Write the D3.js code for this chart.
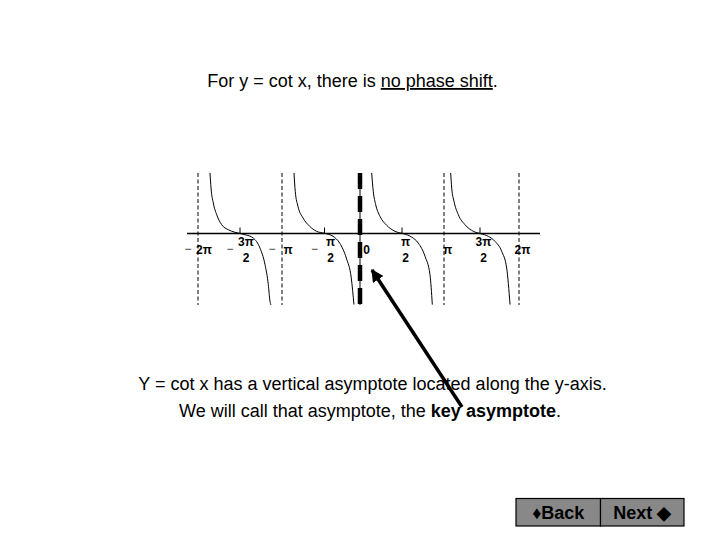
<!DOCTYPE html>
<html>
<head>
<meta charset="utf-8">
<script src="https://cdn.jsdelivr.net/npm/d3@7"></script>
<style>
  html, body { margin: 0; padding: 0; background: #ffffff; }
  svg { display: block; }
</style>
</head>
<body>
<svg id="chart" width="720" height="540"></svg>
<script>
// ---------------- data (x in multiples of pi) ----------------
const tickValues = [-2, -1.5, -1, -0.5, 0, 0.5, 1, 1.5, 2];
const tickSign   = ["\u2212", "\u2212", "\u2212", "\u2212", "", "", "", "", ""];
const tickNum    = ["2\u03C0", "3\u03C0", "\u03C0", "\u03C0", "0", "\u03C0", "\u03C0", "3\u03C0", "2\u03C0"];
const tickDen    = ["", "2", "", "2", "", "2", "", "2", ""];
const zeroCrossings = [-1.5, -0.5, 0.5, 1.5];
const asymptotes = [-2, -1, 1, 2];
const keyAsymptote = 0;

const branch1X = [-1.857, -1.845, -1.818, -1.777, -1.718, -1.639, -1.560, -1.5, -1.440, -1.341, -1.262, -1.202, -1.163, -1.143, -1.131];
const branch1Y = [3.03, 2.28, 1.53, 0.94, 0.44, 0.19, 0.06, 0.0, -0.06, -0.23, -0.73, -1.56, -2.56, -3.39, -3.58];
const branch2X = [-0.859, -0.844, -0.812, -0.753, -0.674, -0.594, -0.497, -0.380, -0.286, -0.193, -0.123, -0.085];
const branch2Y = [3.03, 2.11, 1.36, 0.78, 0.36, 0.11, 0.01, -0.14, -0.48, -1.23, -2.23, -3.56];
const branch3X = [0.139, 0.158, 0.187, 0.238, 0.318, 0.417, 0.516, 0.615, 0.694, 0.774, 0.833, 0.861];
const branch3Y = [3.03, 2.11, 1.44, 0.86, 0.41, 0.11, -0.01, -0.18, -0.48, -1.14, -2.06, -3.56];
const branch4X = [1.093, 1.107, 1.139, 1.199, 1.292, 1.407, 1.509, 1.606, 1.692, 1.778, 1.842, 1.885];
const branch4Y = [3.03, 2.28, 1.61, 0.94, 0.44, 0.11, -0.01, -0.14, -0.39, -0.89, -1.73, -3.56];
const branchesX = [branch1X, branch2X, branch3X, branch4X];
const branchesY = [branch1Y, branch2Y, branch3Y, branch4Y];

const yTop = 3.03, yBottom = -3.58;

const titleParts = ["For y = cot x, there is ", "no phase shift", "."];
const line1 = "Y = cot x has a vertical asymptote located along the y-axis.";
const line2Parts = ["We will call that asymptote, the ", "key asymptote", "."];
const buttonLabels = ["\u2666Back", "Next \u25C6"];

// ---------------- drawing ----------------
const svg = d3.select("#chart");
const FONT = "'Liberation Sans', Arial, sans-serif";

const x = d3.scaleLinear()
  .domain(tickValues)
  .range([198, 240, 282, 324.5, 360, 402, 444, 480, 519]);
const y = d3.scaleLinear().domain([yTop, yBottom]).range([173, 305]);

// title
const title = svg.append("text")
  .attr("x", 352.5).attr("y", 87)
  .attr("text-anchor", "middle")
  .attr("font-family", FONT).attr("font-size", 18).attr("fill", "#000");
title.append("tspan").text(titleParts[0]);
title.append("tspan").attr("text-decoration", "underline").text(titleParts[1]);
title.append("tspan").text(titleParts[2]);

// thin dashed asymptotes
svg.selectAll("line.asym").data(asymptotes).join("line")
  .attr("class", "asym")
  .attr("x1", d => x(d)).attr("x2", d => x(d))
  .attr("y1", y(yTop)).attr("y2", y(yBottom))
  .attr("stroke", "#000").attr("stroke-width", 1)
  .attr("stroke-dasharray", "4,2.5");

// x axis line
svg.append("line")
  .attr("x1", 187).attr("x2", 540)
  .attr("y1", y(0)).attr("y2", y(0))
  .attr("stroke", "#000").attr("stroke-width", 1.3);

// small ticks at zero crossings
svg.selectAll("line.tick").data(zeroCrossings).join("line")
  .attr("class", "tick")
  .attr("x1", d => x(d)).attr("x2", d => x(d))
  .attr("y1", y(0) - 6).attr("y2", y(0))
  .attr("stroke", "#000").attr("stroke-width", 1);

// cot branches
const lineGen = d3.line().x(d => x(d[0])).y(d => y(d[1])).curve(d3.curveMonotoneX);
branchesX.forEach((bx, i) => {
  const pts = bx.map((v, j) => [v, branchesY[i][j]]);
  svg.append("path").attr("d", lineGen(pts))
    .attr("fill", "none").attr("stroke", "#000").attr("stroke-width", 1);
});

// key asymptote (thick dashed over thin solid)
svg.append("line")
  .attr("x1", x(keyAsymptote)).attr("x2", x(keyAsymptote))
  .attr("y1", y(yTop)).attr("y2", y(yBottom))
  .attr("stroke", "#000").attr("stroke-width", 1);
svg.append("line")
  .attr("x1", x(keyAsymptote)).attr("x2", x(keyAsymptote))
  .attr("y1", y(yTop)).attr("y2", y(yBottom))
  .attr("stroke", "#000").attr("stroke-width", 4.5)
  .attr("stroke-dasharray", "16,7");

// tick labels
const lab = svg.append("g")
  .attr("font-family", FONT).attr("font-weight", "bold")
  .attr("font-size", 12).attr("fill", "#000");
tickValues.forEach((v, i) => {
  const neg = tickSign[i] !== "";
  const cx = x(v) + (neg ? 6 : (v === 0 ? 6.5 : 3.5));
  const hasDen = tickDen[i] !== "";
  if (neg) {
    lab.append("text").attr("x", x(v) - 10).attr("y", 253)
      .attr("text-anchor", "middle").attr("font-weight", "normal").attr("fill", "#333")
      .text(tickSign[i]);
  }
  if (hasDen) {
    lab.append("text").attr("x", cx).attr("y", 246)
      .attr("text-anchor", "middle").text(tickNum[i]);
    lab.append("text").attr("x", cx).attr("y", 262)
      .attr("text-anchor", "middle").text(tickDen[i]);
  } else {
    lab.append("text").attr("x", cx).attr("y", 253.5)
      .attr("text-anchor", "middle").text(tickNum[i]);
  }
});

// explanation text
svg.append("text")
  .attr("x", 372.5).attr("y", 390)
  .attr("text-anchor", "middle")
  .attr("font-family", FONT).attr("font-size", 18).attr("fill", "#000")
  .text(line1);
const t2 = svg.append("text")
  .attr("x", 370).attr("y", 417)
  .attr("text-anchor", "middle")
  .attr("font-family", FONT).attr("font-size", 18).attr("fill", "#000");
t2.append("tspan").text(line2Parts[0]);
t2.append("tspan").attr("font-weight", "bold").text(line2Parts[1]);
t2.append("tspan").text(line2Parts[2]);

// arrow
const defs = svg.append("defs");
defs.append("marker")
  .attr("id", "ah").attr("viewBox", "0 0 10 10")
  .attr("refX", 9).attr("refY", 5)
  .attr("markerWidth", 3.6).attr("markerHeight", 3.6)
  .attr("orient", "auto")
  .append("path").attr("d", "M0,0 L10,5 L0,10 Z").attr("fill", "#000");
svg.append("line")
  .attr("x1", 462).attr("y1", 407)
  .attr("x2", 372).attr("y2", 270)
  .attr("stroke", "#000").attr("stroke-width", 3.5)
  .attr("marker-end", "url(#ah)");

// buttons
const btnX = [516, 600.5];
const btnW = [84.5, 83.5];
buttonLabels.forEach((t, i) => {
  svg.append("rect")
    .attr("x", btnX[i]).attr("y", 498.5)
    .attr("width", btnW[i]).attr("height", 27.5)
    .attr("fill", "#888888").attr("stroke", "#000").attr("stroke-width", 1.2);
  svg.append("text")
    .attr("x", btnX[i] + btnW[i] / 2).attr("y", 518.5)
    .attr("text-anchor", "middle")
    .attr("font-family", FONT).attr("font-weight", "bold")
    .attr("font-size", 18).attr("fill", "#000")
    .text(t);
});
</script>
</body>
</html>
